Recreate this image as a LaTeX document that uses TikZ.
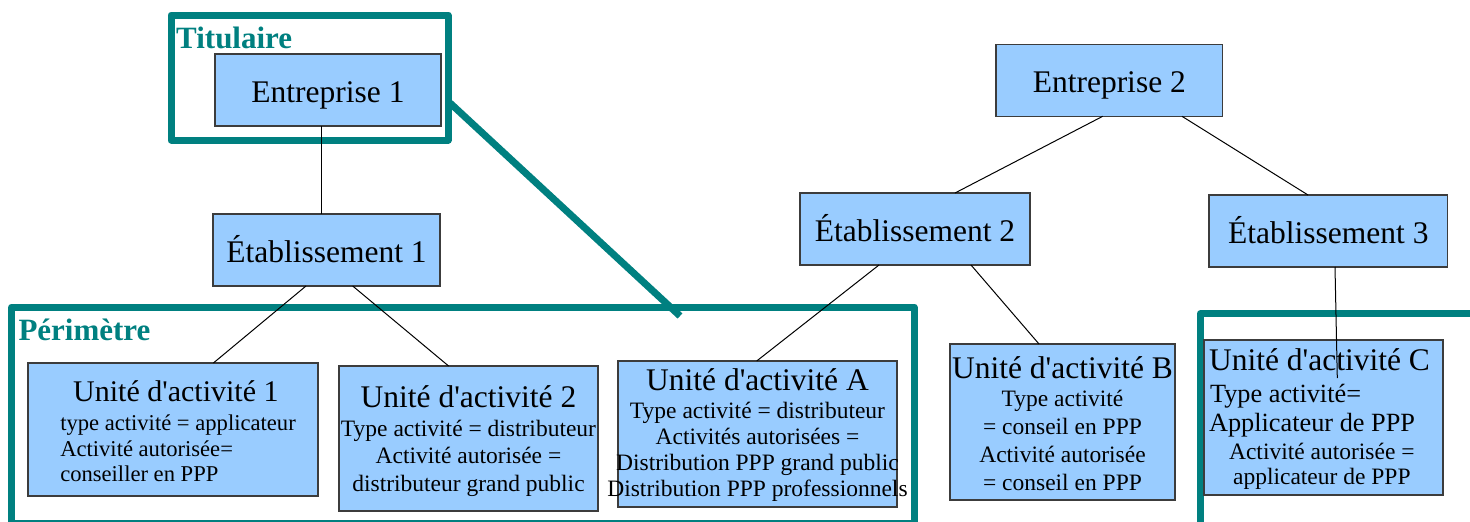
\documentclass[tikz,border=0pt]{standalone}
\usepackage{fontspec}
\setmainfont{Liberation Serif}
\definecolor{frameteal}{RGB}{0,128,128}
\definecolor{boxblue}{RGB}{153,204,255}
\definecolor{boxedge}{RGB}{60,60,60}
\newcommand\ap{\textquotesingle}

\begin{document}
\begin{tikzpicture}[x=1pt,y=-1pt,
  unit/.style={draw=boxedge, line width=1.2pt, fill=boxblue, inner sep=0pt, outer sep=0pt},
  headbox/.style={unit, align=center, font=\fontsize{31.5}{36}\selectfont,
    text height=24.6pt, text depth=0pt, minimum height=72pt},
  actfont/.style={font={\fontsize{#1}{0}\selectfont\lineskiplimit=-1000pt\lineskip=0pt}},
  actbox/.style={unit, actfont=23.5, text depth=0pt},
  link/.style={line width=1pt, black},
  zone/.style={draw=frameteal, line width=7pt, line join=round},
  zonelabel/.style={text=frameteal, font=\fontsize{31}{36}\selectfont\bfseries,
    inner sep=0pt, anchor=base west}
]
\fill[white] (0,0) rectangle (1470,522);
\useasboundingbox (0,0) rectangle (1470,522);

% grouping frames
\draw[zone] (171,15) rectangle (448,140);
\draw[zone] (11.7,307) rectangle (914,523);
\draw[zone] (1200.4,313.7) rectangle (1490,540);
\coordinate (zoomFrom) at (450,103);
\coordinate (zoomTo) at (680,316);
\draw[frameteal, line width=7pt] (zoomFrom) -- (zoomTo);

\node[zonelabel] (titulaire) at (176,48.3) {Titulaire};
\node[zonelabel] (perimetre) at (18.3,340.7) {Périmètre};

% companies and establishments
\node[headbox, minimum width=226pt] (e1) at (328,90) {Entreprise 1};
\node[headbox, minimum width=227pt] (t1) at (326.5,250) {Établissement 1};
\node[headbox, minimum width=226.7pt] (e2) at (1109.3,80.3) {Entreprise 2};
\node[headbox, minimum width=230pt] (t2) at (915,229) {Établissement 2};
\node[headbox, minimum width=238.7pt] (t3) at (1328.3,231) {Établissement 3};

% activity units (text height = 2 x offset of the last baseline below the centre)
\node[actbox, actfont=22.6, align=left, minimum width=290pt, minimum height=133pt,
      text height=104.4pt] (u1) at (173,429.5)
  {\kern23pt{\fontsize{30}{0}\selectfont Unité d\ap activité 1}\\[28.3pt]
   \kern10pt type activité = applicateur\\[26pt]
   \kern10pt Activité autorisée=\\[25.7pt]
   \kern10pt conseiller en PPP};

\node[actbox, align=center, minimum width=259pt, minimum height=145pt,
      text height=106.4pt] (u2) at (468.5,438.5)
  {{\fontsize{31.5}{0}\selectfont Unité d\ap activité 2}\\[29.7pt]
   Type activité = distributeur\\[26.3pt]
   Activité autorisée =\\[28.7pt]
   distributeur grand public};

% the two longest lines run past the box edges
\node[actbox, align=center, minimum width=279pt, minimum height=146pt,
      text height=124pt] (uA) at (757.5,434)
  {{\fontsize{31.5}{0}\selectfont Unité d\ap activité A}\\[28pt]
   Type activité = distributeur\\[26pt]
   Activités autorisées =\\[26pt]
   \makebox[260pt]{Distribution PPP grand public}\\[26pt]
   \makebox[260pt]{Distribution PPP professionnels}};

\node[actbox, align=center, minimum width=225pt, minimum height=156pt,
      text height=137pt] (uB) at (1062.5,422)
  {{\fontsize{31.5}{0}\selectfont Unité d\ap activité B}\\[28.5pt]
   Type activité\\[28pt]
   = conseil en PPP\\[28pt]
   Activité autorisée\\[28pt]
   = conseil en PPP};

\node[actbox, align=left, minimum width=239pt, minimum height=155pt,
      text height=133pt] (uC) at (1323.5,417.5)
  {{\fontsize{31.5}{0}\selectfont Unité d\ap activité C}\kern8pt\\[32pt]
   \kern1pt{\fontsize{26.3}{0}\selectfont Type activité=}\\[29pt]
   {\fontsize{26.3}{0}\selectfont Applicateur de PPP}\\[28pt]
   \kern20pt Activité autorisée =\\[25pt]
   \kern24pt applicateur de PPP};

% hierarchy links
\draw[link] (e1.south -| 321,0) -- (t1.north -| 321,0);
\draw[link] (t1.south -| 306,0) -- (u1.north -| 213.4,0);
\draw[link] (t1.south -| 352.7,0) -- (u2.north -| 448.6,0);
\draw[link] (e2.south -| 1102.7,0) -- (t2.north -| 955,0);
\draw[link] (e2.south -| 1182,0) -- (t3.north -| 1308,0);
\draw[link] (t2.south -| 879,0) -- (uA.north -| 756.7,0);
\draw[link] (t2.south -| 971,0) -- (uB.north -| 1039,0);
\coordinate (cTip) at (1337.3,378);
\draw[link] (t3.south -| 1335,0) -- (cTip);
\end{tikzpicture}
\end{document}
